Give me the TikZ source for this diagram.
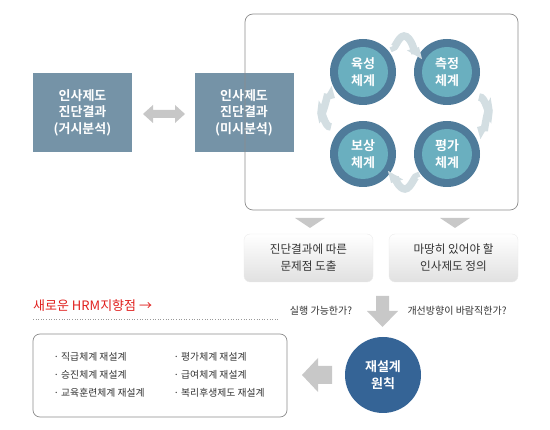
\documentclass[tikz,border=0pt]{standalone}
\usepackage{fontspec}
\setmainfont{Noto Sans CJK KR}[BoldFont={Noto Sans CJK KR Bold}]
\usetikzlibrary{arrows.meta}
\definecolor{boxblue}{HTML}{7593A7}
\definecolor{ringblue}{HTML}{4F7B9A}
\definecolor{innerteal}{HTML}{6AAFBF}
\definecolor{cyclegray}{HTML}{D3DEE2}
\definecolor{arrowgray}{HTML}{C8C8C8}
\definecolor{darkblue}{HTML}{356496}
\definecolor{textgray}{HTML}{333333}
\definecolor{redtext}{HTML}{E0201E}
\begin{document}
\begin{tikzpicture}[x=1pt,y=-1pt,
  diagbox/.style={fill=boxblue,text=white,font=\bfseries\fontsize{13}{16.5}\selectfont,align=center,minimum width=99pt,minimum height=79pt,inner sep=0pt},
  ring/.style={circle,fill=ringblue,minimum size=66pt,inner sep=0pt},
  inner/.style={circle,fill=innerteal,minimum size=50pt,inner sep=0pt,text=white,font=\bfseries\fontsize{13}{16.5}\selectfont,align=center},
  cyc/.style={cyclegray,line width=7.5pt,-{Triangle[width=17pt,length=9pt]}},
  softbox/.style={rounded corners=6pt,top color=white,bottom color=black!12,draw=black!8,minimum width=129pt,minimum height=48pt,align=center,font=\fontsize{11.6}{17}\selectfont,text=textgray,inner sep=0pt},
  qtext/.style={font=\fontsize{10}{12}\selectfont,text=textgray},
  listtext/.style={font=\fontsize{9.8}{12}\selectfont,text=textgray,anchor=west}]
\useasboundingbox (0,0) rectangle (550,430);
% left boxes
\node[diagbox] (macro) at (82.5,112.5) {인사제도\\진단결과\\(거시분석)};
\node[diagbox] (micro) at (244,112.5) {인사제도\\진단결과\\(미시분석)};
\fill[black!22] (143,114) -- (153,105) -- (153,110) -- (175,110) -- (175,105) -- (185,114) -- (175,123) -- (175,118) -- (153,118) -- (153,123) -- cycle;
% big frame
\node[draw=black!45,rounded corners=8pt,line width=0.7pt,minimum width=273pt,minimum height=196pt,inner sep=0pt] (frame) at (381.5,112) {};
% circles
\node[ring] (r1) at (363,72) {};
\node[inner] (c1) at (363,72) {육성\\체계};
\node[ring] (r2) at (447,72) {};
\node[inner] (c2) at (447,72) {측정\\체계};
\node[ring] (r3) at (447,154) {};
\node[inner] (c3) at (447,154) {평가\\체계};
\node[ring] (r4) at (363,154) {};
\node[inner] (c4) at (363,154) {보상\\체계};
% cycle arrows
\coordinate (t1) at (393,46); \coordinate (t2) at (419,47);
\coordinate (g1) at (479,97); \coordinate (g2) at (477,127);
\coordinate (b1) at (417,178); \coordinate (b2) at (391,183);
\coordinate (l1) at (331,127); \coordinate (l2) at (335,98);
\draw[cyc] (t1) to[out=-80,in=180] (404,36) to[out=0,in=-120] (t2);
\draw[cyc] (g1) to[out=10,in=-90] (489,111) to[out=90,in=-30] (g2);
\draw[cyc] (b1) to[out=100,in=0] (405,189) to[out=180,in=60] (b2);
\draw[cyc] (l1) to[out=190,in=90] (321,113) to[out=-90,in=150] (l2);
% small triangles
\fill[arrowgray] (295,218) -- (325,218) -- (310,228) -- cycle;
\fill[arrowgray] (440,218) -- (470,218) -- (455,228) -- cycle;
% soft boxes
\node[softbox] (prob) at (308.5,258) {진단결과에 따른\\문제점 도출};
\node[softbox] (def) at (453.5,258) {마땅히 있어야 할\\인사제도 정의};
% big down arrow
\fill[arrowgray] (376,296) -- (389,296) -- (389,311) -- (398,311) -- (382.5,327) -- (367,311) -- (376,311) -- cycle;
\node[qtext] (q1) at (321,311) {실행 가능한가?};
\node[qtext] (q2) at (457,311) {개선방향이 바람직한가?};
% red text
\node[font=\fontsize{13}{14}\selectfont,text=redtext,anchor=west,inner sep=0pt] (hrm) at (33,306) {새로운 HRM지향점 →};
\draw[black!40,dotted,line width=0.6pt] (33,319) -- (278,319);
% principle circle
\node[circle,fill=darkblue,minimum size=76pt,inner sep=0pt,text=white,font=\bfseries\fontsize{13}{17}\selectfont,align=center] (princ) at (383,375) {재설계\\원칙};
% left arrow
\fill[arrowgray] (332,366) -- (318,366) -- (318,358) -- (302,375) -- (318,392) -- (318,384) -- (332,384) -- cycle;
% list box
\node[draw=black!45,rounded corners=7pt,line width=0.7pt,minimum width=254pt,minimum height=83pt,inner sep=0pt] (list) at (160,375.5) {};
\node[listtext] (i1) at (50,357) {· 직급체계 재설계};
\node[listtext] (i2) at (50,375) {· 승진체계 재설계};
\node[listtext] (i3) at (50,393) {· 교육훈련체계 재설계};
\node[listtext] (i4) at (170,357) {· 평가체계 재설계};
\node[listtext] (i5) at (170,375) {· 급여체계 재설계};
\node[listtext] (i6) at (170,393) {· 복리후생제도 재설계};
\end{tikzpicture}
\end{document}
